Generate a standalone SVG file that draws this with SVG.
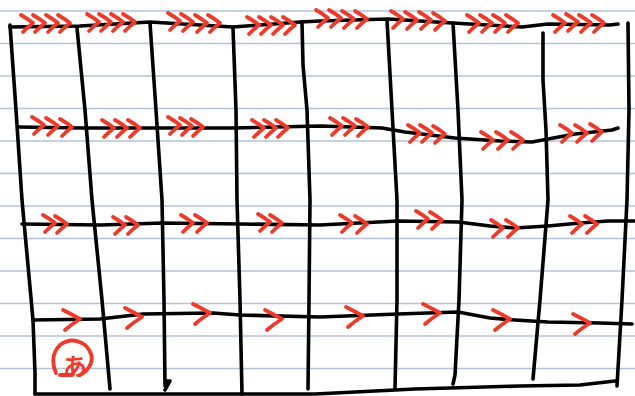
<svg xmlns="http://www.w3.org/2000/svg" xmlns:xlink="http://www.w3.org/1999/xlink" width="635" height="396" viewBox="0 0 635 396">
<style>
.rule{stroke:#b3c3da;stroke-width:1.5}
.ink{fill:none;stroke:#000;stroke-width:3.6;stroke-linecap:round;stroke-linejoin:round}
.red{fill:none;stroke:#ee3a2a;stroke-width:3.8;stroke-linecap:round;stroke-linejoin:round}
</style>
<defs>
<path id="c" class="red" d="M-12,-8 Q-5,-4 0,0 Q-5,4 -10,9"/>
<path id="cb" class="red" d="M-17,-9 Q-7,-4 0,0 Q-8,5 -15,11"/>
</defs>
<rect width="635" height="396" fill="#fff"/>
<g id="paper">
<line class="rule" x1="0" y1="11" x2="635" y2="11"/>
<line class="rule" x1="0" y1="43.5" x2="635" y2="43.5"/>
<line class="rule" x1="0" y1="76" x2="635" y2="76"/>
<line class="rule" x1="0" y1="108.5" x2="635" y2="108.5"/>
<line class="rule" x1="0" y1="141" x2="635" y2="141"/>
<line class="rule" x1="0" y1="173.5" x2="635" y2="173.5"/>
<line class="rule" x1="0" y1="206" x2="635" y2="206"/>
<line class="rule" x1="0" y1="238.5" x2="635" y2="238.5"/>
<line class="rule" x1="0" y1="271" x2="635" y2="271"/>
<line class="rule" x1="0" y1="303.5" x2="635" y2="303.5"/>
<line class="rule" x1="0" y1="336" x2="635" y2="336"/>
<line class="rule" x1="0" y1="368.5" x2="635" y2="368.5"/>
</g>
<g id="grid">
<path class="ink" d="M10,27 L80,26 L150,22 L233,27 L300,22 L320,21 L388,19 L452,23 L522,27 L548,24 L610,25 L618,24"/>
<path class="ink" d="M18,127 L83,128 L153,128 L233,128 L320,126 L382,128 L405,132 L455,138 L500,141 L532,142 L548,139 L575,134 L612,130 L618,128"/>
<path class="ink" d="M22,224 L100,225 L163,223 L240,224 L320,225 L398,221 L458,222 L490,226 L515,228 L548,226 L580,223 L608,221 L635,221"/>
<path class="ink" d="M33,320 L100,319 L143,314 L213,313 L240,315 L320,317 L398,314 L458,312 L490,318 L515,320 L548,322 L600,323 L632,324"/>
<path class="ink" d="M35,394 L200,394 L315,394 L415,389 L520,386 L580,385 L615,381"/>
<path class="ink" d="M10,25 L16,110 L22,200 L33,320 L35,373 L35,394"/>
<path class="ink" d="M77,28 L85,110 L92,200 L102,300 L110,389"/>
<path class="ink" d="M150,23 L156,110 L162,200 L164,300 L165,386 M166,381 L170,381 L165,390"/>
<path class="ink" d="M233,28 L236,110 L237,200 L240,300 L242,394"/>
<path class="ink" d="M302,22 L303,65 L307,110 L310,200 L309,300 L308,389"/>
<path class="ink" d="M387,20 L392,110 L397,200 L397,300 L395,388"/>
<path class="ink" d="M453,23 L458,110 L462,200 L459,300 L455,375 L453,384"/>
<path class="ink" d="M543,33 L543,80 L546,130 L548,200 L540,300 L533,379"/>
<path class="ink" d="M628,23 L629,110 L627,200 L622,300 L617,386"/>
</g>
<g id="arrows">
<use href="#c" transform="translate(33,23)"/><use href="#c" transform="translate(45,23)"/><use href="#c" transform="translate(58,23)"/><use href="#c" transform="translate(70,23)"/>
<use href="#c" transform="translate(99,22)"/><use href="#c" transform="translate(111,22)"/><use href="#c" transform="translate(123,22)"/><use href="#c" transform="translate(135,22)"/>
<use href="#c" transform="translate(180,21)"/><use href="#c" transform="translate(193,22)"/><use href="#c" transform="translate(207,23)"/><use href="#c" transform="translate(220,23)"/>
<use href="#c" transform="translate(259,25)"/><use href="#c" transform="translate(271,25)"/><use href="#c" transform="translate(283,25)"/><use href="#c" transform="translate(295,25)"/>
<use href="#c" transform="translate(328,18)"/><use href="#c" transform="translate(341,18)"/><use href="#c" transform="translate(354,19)"/><use href="#c" transform="translate(367,19)"/>
<use href="#c" transform="translate(403,19)"/><use href="#c" transform="translate(417,20)"/><use href="#c" transform="translate(431,20)"/><use href="#c" transform="translate(445,21)"/>
<use href="#c" transform="translate(479,23)"/><use href="#c" transform="translate(492,23)"/><use href="#c" transform="translate(505,23)"/><use href="#c" transform="translate(518,23)"/>
<use href="#c" transform="translate(565,23)"/><use href="#c" transform="translate(578,22)"/><use href="#c" transform="translate(591,23)"/><use href="#c" transform="translate(604,23)"/>

<use href="#c" transform="translate(44,125)"/><use href="#c" transform="translate(58,126)"/><use href="#c" transform="translate(72,127)"/>
<use href="#c" transform="translate(114,128)"/><use href="#c" transform="translate(127,128)"/><use href="#c" transform="translate(140,128)"/>
<use href="#c" transform="translate(180,125)"/><use href="#c" transform="translate(192,126)"/><use href="#c" transform="translate(203,127)"/>
<use href="#c" transform="translate(264,128)"/><use href="#c" transform="translate(276,128)"/><use href="#c" transform="translate(288,128)"/>
<use href="#c" transform="translate(342,126)"/><use href="#c" transform="translate(355,126)"/><use href="#c" transform="translate(368,127)"/>
<use href="#c" transform="translate(420,133)"/><use href="#c" transform="translate(432,133)"/><use href="#c" transform="translate(445,134)"/>
<use href="#c" transform="translate(493,140)"/><use href="#c" transform="translate(508,140)"/><use href="#c" transform="translate(523,140)"/>
<use href="#c" transform="translate(572,133)"/><use href="#c" transform="translate(587,133)"/><use href="#c" transform="translate(602,132)"/>

<use href="#c" transform="translate(55,223)"/><use href="#c" transform="translate(67,224)"/>
<use href="#c" transform="translate(125,225)"/><use href="#c" transform="translate(138,225)"/>
<use href="#c" transform="translate(193,223)"/><use href="#c" transform="translate(207,223)"/>
<use href="#c" transform="translate(270,222)"/><use href="#c" transform="translate(282,223)"/>
<use href="#c" transform="translate(352,223)"/><use href="#c" transform="translate(367,224)"/>
<use href="#c" transform="translate(428,219)"/><use href="#c" transform="translate(442,220)"/>
<use href="#c" transform="translate(503,228)"/><use href="#c" transform="translate(518,228)"/>
<use href="#c" transform="translate(582,224)"/><use href="#c" transform="translate(597,224)"/>

<use href="#cb" transform="translate(80,319)" style="stroke-width:5"/>
<use href="#cb" transform="translate(142,317)"/>
<use href="#cb" transform="translate(210,313)"/>
<use href="#cb" transform="translate(282,319)"/>
<use href="#cb" transform="translate(363,316)"/>
<use href="#cb" transform="translate(440,313)"/>
<use href="#cb" transform="translate(510,319)"/>
<use href="#cb" transform="translate(590,323)"/>
</g>
<g id="mark">
<path class="red" d="M56,373 Q49,356 60,345 Q72,336 85,345 Q96,356 89,367 Q85,373 80,375" stroke-width="2.8"/>
<line class="red" x1="60" y1="375" x2="72" y2="375" stroke-width="2.8"/>
<text x="75" y="375" font-family="'Noto Sans CJK JP', sans-serif" font-size="24" font-weight="bold" fill="#ee3a2a" text-anchor="middle">あ</text>
</g>
</svg>
